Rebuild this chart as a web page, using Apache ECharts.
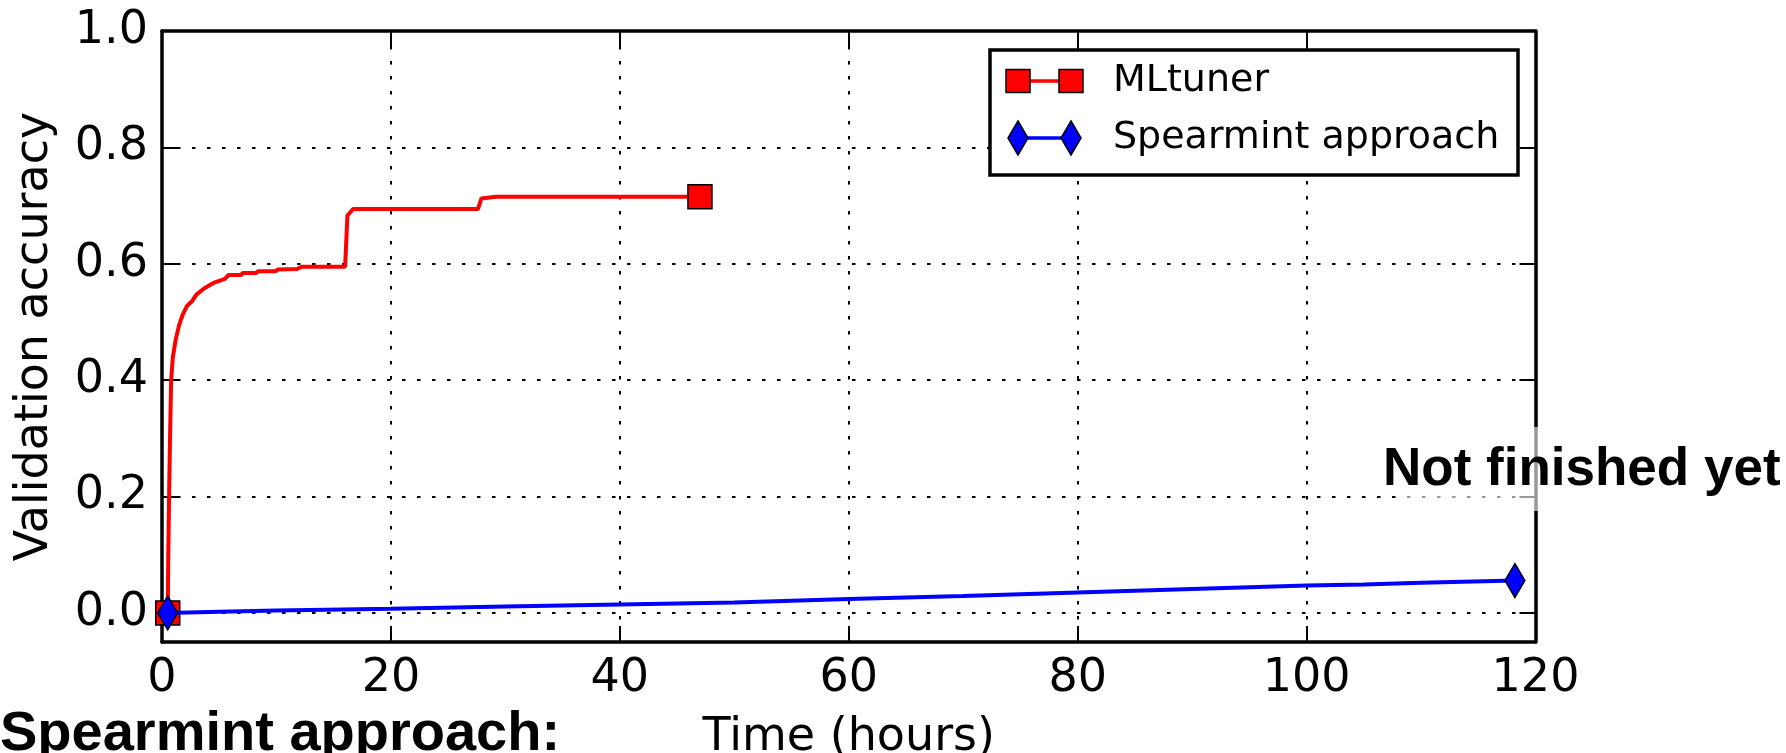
<!DOCTYPE html>
<html>
<head>
<meta charset="utf-8">
<script src="https://cdn.jsdelivr.net/npm/echarts@6/dist/echarts.min.js"></script>
<style>
  html, body { margin: 0; padding: 0; background: #ffffff; }
  #chart { width: 1786px; height: 753px; }
</style>
</head>
<body>
<div id="chart"></div>
<script>
// ---- data ----
const seriesNames = ['MLtuner', 'Spearmint approach'];

const mltunerHours = [0.5, 0.55, 0.62, 0.7, 0.8, 0.95, 1.2, 1.5, 1.8, 2.2, 2.6, 3.0, 3.7, 4.5, 5.5, 5.8, 6.9, 7.05, 8.2, 8.4, 9.9, 10.1, 11.8, 12.2, 16.0, 16.2, 16.7, 27.6, 27.9, 29.2, 47.0];
const mltunerAcc   = [0.0, 0.1, 0.2, 0.3, 0.4, 0.44, 0.47, 0.495, 0.512, 0.528, 0.535, 0.547, 0.558, 0.567, 0.574, 0.5805, 0.5805, 0.584, 0.584, 0.587, 0.587, 0.59, 0.591, 0.595, 0.595, 0.683, 0.694, 0.694, 0.712, 0.715, 0.715];

const spearmintHours = [0.5, 5, 10, 20, 30, 40, 50, 60, 70, 80, 90, 100, 105, 110, 118.2];
const spearmintAcc   = [0.0, 0.002, 0.004, 0.007, 0.011, 0.0145, 0.018, 0.024, 0.029, 0.035, 0.041, 0.047, 0.049, 0.052, 0.0556];

const xTicks = [0, 20, 40, 60, 80, 100, 120];
const yTicks = [0, 0.2, 0.4, 0.6, 0.8, 1.0];

const xTitle = 'Time (hours)';
const yTitle = 'Validation accuracy';
const noteText = 'Not finished yet';
const captionText = 'Spearmint approach:';

// ---- styles ----
const MPL_FONT = '"DejaVu Sans", "Liberation Sans", sans-serif';
const BOLD_FONT = '"Liberation Sans", Arial, sans-serif';
const RED = '#ff0000';
const BLUE = '#0000ff';

function zip(xs, ys) { return xs.map((x, i) => [x, ys[i]]); }

function endpointsOnly(shape, count) {
  return function (value, params) {
    return (params.dataIndex === 0 || params.dataIndex === count - 1) ? shape : 'none';
  };
}

const chart = echarts.init(document.getElementById('chart'), null, { renderer: 'canvas' });

const gridLine = { show: true, lineStyle: { color: '#000', width: 2, type: [3.5, 11.5] } };
const frameLine = { show: true, onZero: false, lineStyle: { color: '#000', width: 3.5 } };
const innerTick = { show: true, inside: true, length: 16, lineStyle: { color: '#000', width: 2 } };

// legend drawn as a matplotlib-style box
const legendX = 990, legendY = 50, legendW = 528, legendH = 125;
const rowY = [81, 138];
const mkL = 1018, mkR = 1071;
const legendGraphics = [
  { type: 'rect', shape: { x: legendX, y: legendY, width: legendW, height: legendH },
    style: { fill: '#fff', stroke: '#000', lineWidth: 3.5 }, z: 100 },
  // row 1: square markers
  { type: 'line', shape: { x1: mkL, y1: rowY[0], x2: mkR, y2: rowY[0] }, style: { stroke: RED, lineWidth: 3.5 }, z: 101 },
  { type: 'rect', shape: { x: mkL - 12, y: rowY[0] - 11.5, width: 24, height: 23 }, style: { fill: RED, stroke: '#000', lineWidth: 1.5 }, z: 102 },
  { type: 'rect', shape: { x: mkR - 12, y: rowY[0] - 11.5, width: 24, height: 23 }, style: { fill: RED, stroke: '#000', lineWidth: 1.5 }, z: 102 },
  { type: 'text', x: 1113, y: rowY[0], style: { text: seriesNames[0], font: '38px ' + MPL_FONT, fill: '#000', verticalAlign: 'middle', align: 'left' }, z: 102 },
  // row 2: diamond markers
  { type: 'line', shape: { x1: mkL, y1: rowY[1], x2: mkR, y2: rowY[1] }, style: { stroke: BLUE, lineWidth: 3.5 }, z: 101 },
  { type: 'polygon', shape: { points: [[mkL, rowY[1] - 17], [mkL + 10, rowY[1]], [mkL, rowY[1] + 17], [mkL - 10, rowY[1]]] }, style: { fill: BLUE, stroke: '#000', lineWidth: 1.5 }, z: 102 },
  { type: 'polygon', shape: { points: [[mkR, rowY[1] - 17], [mkR + 10, rowY[1]], [mkR, rowY[1] + 17], [mkR - 10, rowY[1]]] }, style: { fill: BLUE, stroke: '#000', lineWidth: 1.5 }, z: 102 },
  { type: 'text', x: 1113, y: rowY[1], style: { text: seriesNames[1], font: '38px ' + MPL_FONT, fill: '#000', verticalAlign: 'middle', align: 'left' }, z: 102 }
];

const option = {
  animation: false,
  backgroundColor: '#ffffff',
  grid: { left: 162, right: 250.5, top: 31, bottom: 111, containLabel: false, outerBoundsMode: 'none' },
  xAxis: [
    {
      type: 'value', position: 'bottom', min: 0, max: 120, interval: 20,
      axisLine: frameLine, axisTick: innerTick, splitLine: gridLine,
      axisLabel: { show: true, margin: 14, color: '#000', fontSize: 46, fontFamily: MPL_FONT },
      name: xTitle, nameLocation: 'middle', nameGap: 73,
      nameTextStyle: { color: '#000', fontSize: 46, fontFamily: MPL_FONT }
    },
    {
      type: 'value', position: 'top', min: 0, max: 120, interval: 20,
      axisLine: frameLine, axisTick: innerTick, splitLine: { show: false }, axisLabel: { show: false }
    }
  ],
  yAxis: [
    {
      type: 'value', position: 'left', min: -0.05, max: 1.0,
      axisLine: frameLine,
      axisTick: Object.assign({}, innerTick, { customValues: yTicks }),
      splitLine: gridLine,
      axisLabel: { show: true, margin: 14, color: '#000', fontSize: 46, fontFamily: MPL_FONT,
        customValues: yTicks, formatter: v => Number(v).toFixed(1) },
      name: yTitle, nameLocation: 'middle', nameGap: 104, nameRotate: 90,
      nameTextStyle: { color: '#000', fontSize: 46, fontFamily: MPL_FONT }
    },
    {
      type: 'value', position: 'right', min: -0.05, max: 1.0,
      axisLine: frameLine,
      axisTick: Object.assign({}, innerTick, { customValues: yTicks }),
      splitLine: { show: false },
      axisLabel: { show: false, customValues: yTicks }
    }
  ],
  series: [
    {
      name: seriesNames[0], type: 'line', xAxisIndex: 0, yAxisIndex: 0,
      data: zip(mltunerHours, mltunerAcc),
      showSymbol: true, showAllSymbol: true,
      symbol: endpointsOnly('rect', mltunerHours.length), symbolSize: [24, 24],
      lineStyle: { color: RED, width: 4 },
      itemStyle: { color: RED, borderColor: '#000', borderWidth: 1.5 },
      z: 3
    },
    {
      name: seriesNames[1], type: 'line', xAxisIndex: 0, yAxisIndex: 0,
      data: zip(spearmintHours, spearmintAcc),
      showSymbol: true, showAllSymbol: true,
      symbol: endpointsOnly('diamond', spearmintHours.length), symbolSize: [20, 34],
      lineStyle: { color: BLUE, width: 4 },
      itemStyle: { color: BLUE, borderColor: '#000', borderWidth: 1.5 },
      z: 4
    }
  ],
  graphic: legendGraphics.concat([
    // translucent backing behind the annotation
    { type: 'rect', shape: { x: 1400, y: 427, width: 146, height: 84 },
      style: { fill: 'rgba(255,255,255,0.6)' }, z: 110 },
    { type: 'text', x: 1383, y: 470,
      style: { text: noteText, font: 'bold 53px ' + BOLD_FONT, fill: '#000', align: 'left', verticalAlign: 'middle' }, z: 111 },
    { type: 'text', x: 0, y: 735,
      style: { text: captionText, font: 'bold 56px ' + BOLD_FONT, fill: '#000', align: 'left', verticalAlign: 'middle' }, z: 111 }
  ])
};

chart.setOption(option);
</script>
</body>
</html>
